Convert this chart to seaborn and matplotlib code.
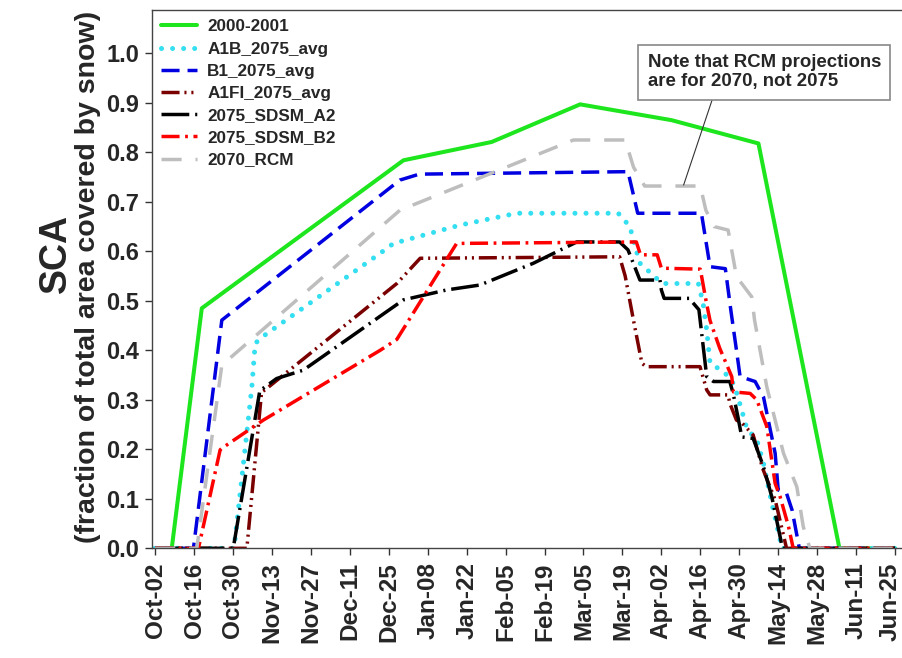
import matplotlib
matplotlib.use("Agg")
import matplotlib.pyplot as plt
import matplotlib.transforms as mtransforms
import seaborn as sns
import numpy as np
import pandas as pd

# ---------------- data (x = days since Oct-02) ----------------
tick_labels = ["Oct-02", "Oct-16", "Oct-30", "Nov-13", "Nov-27", "Dec-11", "Dec-25",
               "Jan-08", "Jan-22", "Feb-05", "Feb-19", "Mar-05", "Mar-19", "Apr-02",
               "Apr-16", "Apr-30", "May-14", "May-28", "Jun-11", "Jun-25"]
tick_days = [0, 14, 28, 42, 56, 70, 84, 98, 112, 126, 140, 154, 168, 182,
             196, 210, 224, 238, 252, 266]

days_obs = [0, 6.0, 16.8, 89.3, 121, 152.8, 185.7, 216.9, 246, 266]
sca_obs = [0, 0, 0.485, 0.784, 0.821, 0.897, 0.865, 0.818, 0, 0]

days_a1b = [0, 28.4, 34.8, 36.0, 38.5, 80.9, 85.7, 109.6, 130, 166.5, 170.7, 171.9,
            174.3, 181.5, 182.7, 195.3, 197, 198.3, 199.5, 204.3, 207.3, 209.1, 210.9,
            212.7, 216.3, 218.7, 221.7, 224.7, 225.2, 266]
sca_a1b = [0, 0, 0.326, 0.414, 0.427, 0.596, 0.616, 0.653, 0.677, 0.677, 0.650, 0.623,
           0.576, 0.539, 0.535, 0.535, 0.495, 0.441, 0.374, 0.357, 0.340, 0.313, 0.279,
           0.242, 0.219, 0.172, 0.091, 0.017, 0, 0]

days_b1 = [0, 13.8, 24, 88, 95, 170, 173.5, 196.4, 199.5, 205, 207, 209, 210.3, 215.7,
           218.7, 222.9, 224, 227, 229, 231.6, 266]
sca_b1 = [0, 0, 0.461, 0.744, 0.756, 0.761, 0.677, 0.677, 0.569, 0.565, 0.48, 0.40,
          0.347, 0.337, 0.306, 0.192, 0.118, 0.111, 0.077, 0, 0]

days_a1fi = [0, 33, 38.3, 39.5, 86.9, 95.3, 167, 169, 172, 175, 176.5, 195.9, 198.3,
             199.5, 206, 206.6, 209, 211, 215, 218.5, 222.9, 227, 266]
sca_a1fi = [0, 0, 0.316, 0.320, 0.535, 0.586, 0.589, 0.55, 0.46, 0.374, 0.367, 0.367,
            0.320, 0.310, 0.310, 0.293, 0.259, 0.253, 0.229, 0.16, 0.098, 0, 0]

days_sdsm_a2 = [0, 28.1, 37.7, 38.3, 43.7, 53.3, 89.3, 104.8, 116.8, 136, 151.6, 167,
                170, 174.3, 181.5, 182, 183, 192, 195.5, 198.3, 200.7, 206.6, 207.8,
                209.5, 210.9, 215, 218.7, 221.7, 224.7, 225.5, 266]
sca_sdsm_a2 = [0, 0, 0.320, 0.321, 0.343, 0.360, 0.502, 0.522, 0.532, 0.576, 0.619, 0.619,
               0.603, 0.542, 0.542, 0.522, 0.505, 0.505, 0.482, 0.347, 0.337, 0.337, 0.313,
               0.266, 0.225, 0.222, 0.165, 0.104, 0.023, 0, 0]

days_sdsm_b2 = [0, 15.6, 23.4, 24, 38.9, 80.9, 86.9, 108.4, 173, 174.5, 180.5, 182, 196,
                198, 199.5, 203, 207.3, 207.9, 213.9, 216.3, 219.9, 222.9, 224.7, 227.7,
                229.4, 266]
sca_sdsm_b2 = [0, 0, 0.199, 0.202, 0.259, 0.400, 0.422, 0.616, 0.619, 0.593, 0.593, 0.566,
               0.564, 0.502, 0.46, 0.404, 0.347, 0.316, 0.313, 0.300, 0.246, 0.131, 0.104,
               0.044, 0, 0]

days_rcm = [0, 15, 24, 88, 150.4, 169, 172, 176, 196, 198, 201, 206, 209, 214.5, 215.5,
            219.9, 225.9, 230.7, 233, 235.4, 266]
sca_rcm = [0, 0, 0.370, 0.683, 0.825, 0.825, 0.77, 0.732, 0.732, 0.683, 0.650, 0.643,
           0.549, 0.508, 0.461, 0.326, 0.192, 0.124, 0.044, 0, 0]

series = [
    ("2000-2001", days_obs, sca_obs,
     dict(color="#1EE61E", lw=2.9, linestyle="-")),
    ("A1B_2075_avg", days_a1b, sca_a1b,
     dict(color="#33DFF0", lw=3.6, linestyle=(0, (0.01, 2.2)), dash_capstyle="round")),
    ("B1_2075_avg", days_b1, sca_b1,
     dict(color="#0000E0", lw=2.5, linestyle=(0, (5.2, 2.3)))),
    ("A1FI_2075_avg", days_a1fi, sca_a1fi,
     dict(color="#7A0000", lw=2.5, linestyle=(0, (5.2, 1.4, 0.6, 1.4, 0.6, 1.4)))),
    ("2075_SDSM_A2", days_sdsm_a2, sca_sdsm_a2,
     dict(color="#000000", lw=2.5, linestyle=(0, (8, 1.7, 0.6, 1.7)))),
    ("2075_SDSM_B2", days_sdsm_b2, sca_sdsm_b2,
     dict(color="#FF0000", lw=2.5, linestyle=(0, (5.2, 1.6, 0.8, 1.6)))),
    ("2070_RCM", days_rcm, sca_rcm,
     dict(color="#BEBEBE", lw=2.5, linestyle=(0, (5.8, 4)))),
]

# ---------------- plot ----------------
sns.set_style("white")
plt.rcParams["font.family"] = ["Liberation Sans", "DejaVu Sans"]
plt.rcParams["font.weight"] = "bold"

fig = plt.figure(figsize=(9.02, 6.58), dpi=100)
ax = fig.add_axes([0.1682, 0.1667, 0.8318, 0.818])

for name, dx, dy, style in series:
    df = pd.DataFrame({"day": dx, "sca": dy})
    sns.lineplot(data=df, x="day", y="sca", ax=ax, sort=False, estimator=None,
                 label=name, **style)

ax.set_xlim(-1.2, 268.5)
ax.set_ylim(0, 1.0875)
ax.set_xticks(tick_days)
ax.set_xticklabels(tick_labels, rotation=90, fontsize=17.5, fontweight="bold")
ax.set_yticks(np.round(np.arange(0, 1.01, 0.1), 1))
ax.set_yticklabels([f"{v:.1f}" for v in np.arange(0, 1.01, 0.1)], fontsize=17,
                   fontweight="bold")
ax.tick_params(axis="both", direction="out", length=5, width=1, color="#333333",
               pad=4, left=True, bottom=True)
ax.tick_params(axis="x", pad=5)
ax.set_xlabel("")
ax.set_ylabel("")
for s in ["left", "bottom", "top"]:
    ax.spines[s].set_color("#444444")
    ax.spines[s].set_linewidth(1.0)
ax.spines["right"].set_visible(False)

# keep the last tick label inside the figure edge
last = ax.get_xticklabels()[-1]
last.set_transform(last.get_transform() +
                   mtransforms.ScaledTranslation(-5 / 100, 0, fig.dpi_scale_trans))

leg = ax.legend(loc="upper left", frameon=False, fontsize=12.3, handlelength=2.1,
                handletextpad=0.6, labelspacing=0.42, borderaxespad=0.1,
                borderpad=0.45)
for t in leg.get_texts():
    t.set_fontweight("bold")

ax.annotate("Note that RCM projections\nare for 2070, not 2075",
            xy=(190, 0.734), xycoords="data",
            xytext=(0.661, 0.9177), textcoords="axes fraction",
            ha="left", va="top", fontsize=13.4, fontweight="bold",
            linespacing=1.15,
            bbox=dict(boxstyle="square,pad=0.5", fc="white", ec="#888888", lw=1.2),
            arrowprops=dict(arrowstyle="-", color="#333333", lw=0.8,
                            relpos=(0.29, 0), shrinkA=0, shrinkB=0))

fig.text(0.062, 0.615, "SCA", rotation=90, fontsize=27, fontweight="bold",
         ha="center", va="center")
fig.text(0.0976, 0.579, "(fraction of total area covered by snow)", rotation=90,
         fontsize=20.5, fontweight="bold", ha="center", va="center")

fig.savefig("out.png", dpi=100)
